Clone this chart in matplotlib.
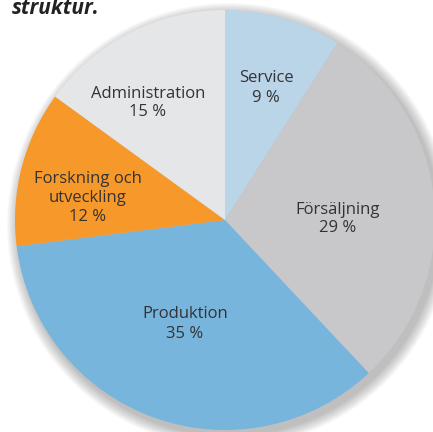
import matplotlib
matplotlib.use("Agg")
import matplotlib.pyplot as plt
from matplotlib.patches import Circle

# data
categories = ["Service", "Försäljning", "Produktion", "Forskning och\nutveckling", "Administration"]
shares = [9, 29, 35, 12, 15]
colors = ["#BAD4E8", "#C8C8CA", "#78B5DC", "#F7982B", "#E5E6E8"]

# label centres in pixel coords (from the top-left corner)
label_pos = [(266, 88), (338, 219), (185, 324), (88, 198), (148, 103)]

W, H = 433, 432
cx, cy, r = 225, H - 220, 210

fig = plt.figure(figsize=(W / 100, H / 100), dpi=100)
ax = fig.add_axes([0, 0, 1, 1])

# soft drop shadow to the lower right
for i in range(12):
    ax.add_patch(Circle((cx + 4, cy - 5), r + 12 - i, color="#555555", alpha=0.035, lw=0, zorder=0))

ax.pie(shares, colors=colors, startangle=90, counterclock=False,
       center=(cx, cy), radius=r, frame=True,
       wedgeprops=dict(linewidth=0))
ax.set_xlim(0, W)
ax.set_ylim(0, H)
ax.set_aspect("equal")
ax.axis("off")

for name, val, (x, y) in zip(categories, shares, label_pos):
    ax.text(x, H - y, f"{name}\n{val} %", ha="center", va="center",
            fontsize=12, color="#333333", family="Open Sans", linespacing=1.25)

fig.text(12 / W, 1 - 14 / H, "struktur.", ha="left", va="baseline",
         fontsize=15, fontweight="bold", fontstyle="italic", color="#222222", family="Open Sans")

fig.savefig("out.png", dpi=100, facecolor="white")
